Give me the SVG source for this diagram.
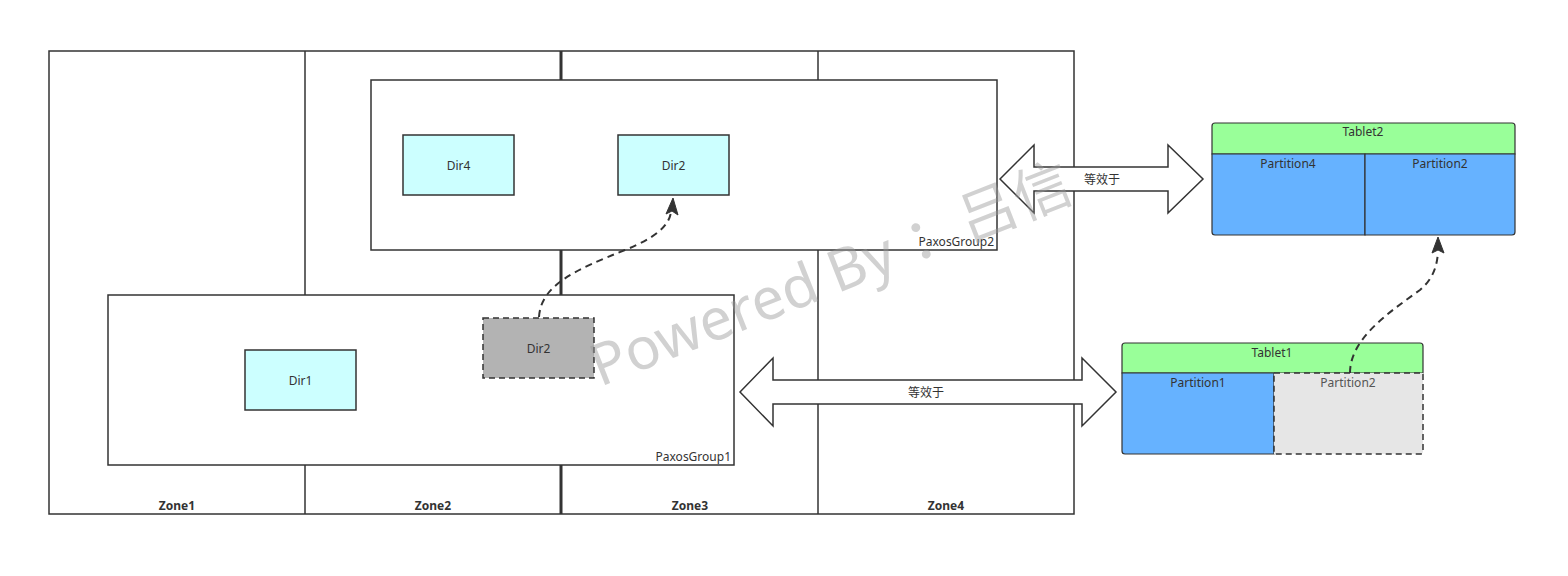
<svg xmlns="http://www.w3.org/2000/svg" width="1568" height="576" viewBox="0 0 1568 576">
<style>
text{font-family:"Noto Sans","Noto Sans CJK SC",sans-serif;font-size:12px;fill:#333}
.zone{fill:none;stroke:#333;stroke-width:1.5}
.zl{font-weight:bold;text-anchor:middle}
.grp{fill:#fff;stroke:#333;stroke-width:1.5}
.gl{text-anchor:end}
.dir{fill:#ccffff;stroke:#333;stroke-width:1.5}
.c{text-anchor:middle;dominant-baseline:central}
.hdr{fill:#99ff99;stroke:#333;stroke-width:1.2}
.part{fill:#66b2ff;stroke:#333;stroke-width:1.2}
.ghost{stroke:#333;stroke-width:1.5;stroke-dasharray:6 4}
.big{fill:#fff;stroke:#333;stroke-width:1.5}
.dash{fill:none;stroke:#333;stroke-width:2;stroke-dasharray:7 5}
.head{fill:#333;stroke:#333;stroke-width:1}
</style>
<rect width="1568" height="576" fill="#fff"/>
<g id="zones">
<rect class="zone" x="49" y="51" width="1025" height="463"/>
<line class="zone" x1="305" y1="51" x2="305" y2="514"/>
<line class="zone" x1="561" y1="51" x2="561" y2="514" style="stroke-width:3"/>
<line class="zone" x1="818" y1="51" x2="818" y2="514"/>
<text class="zl" x="177" y="510">Zone1</text>
<text class="zl" x="433" y="510">Zone2</text>
<text class="zl" x="690" y="510">Zone3</text>
<text class="zl" x="946" y="510">Zone4</text>
</g>
<g id="paxosgroup2">
<rect class="grp" x="371" y="80" width="626" height="170"/>
<text class="gl" x="994" y="246">PaxosGroup2</text>
</g>
<g id="paxosgroup1">
<rect class="grp" x="108" y="295" width="626" height="170"/>
<text class="gl" x="731" y="461">PaxosGroup1</text>
</g>
<g id="dir4"><rect class="dir" x="403" y="135" width="111" height="60"/><text class="c" x="458.5" y="165">Dir4</text></g>
<g id="dir2"><rect class="dir" x="618" y="135" width="111" height="60"/><text class="c" x="673.5" y="165">Dir2</text></g>
<g id="dir1"><rect class="dir" x="245" y="350" width="111" height="60"/><text class="c" x="300.5" y="380">Dir1</text></g>
<g id="dir2-old"><rect class="ghost" fill="#b3b3b3" x="483" y="318" width="111" height="60"/><text class="c" x="538.5" y="348">Dir2</text></g>
<g id="tablet2">
<path class="hdr" d="M1212,154 V126 Q1212,123 1215,123 H1512 Q1515,123 1515,126 V154 Z"/>
<text class="c" x="1363" y="131">Tablet2</text>
<path class="part" d="M1212,154 H1365 V235 H1215 Q1212,235 1212,232 Z"/>
<path class="part" d="M1365,154 H1515 V232 Q1515,235 1512,235 H1365 Z"/>
<text class="c" x="1288" y="163">Partition4</text>
<text class="c" x="1440" y="163">Partition2</text>
</g>
<g id="tablet1">
<path class="hdr" d="M1122,373 V346 Q1122,343 1125,343 H1420 Q1423,343 1423,346 V373 Z"/>
<text class="c" x="1272" y="352">Tablet1</text>
<path class="part" d="M1122,373 H1274 V454 H1125 Q1122,454 1122,451 Z"/>
<path class="ghost" fill="#e6e6e6" d="M1274,373 H1423 V451 Q1423,454 1420,454 H1274 Z"/>
<text class="c" x="1198" y="382">Partition1</text>
<text class="c" x="1348" y="382" style="fill:#555">Partition2</text>
</g>
<g id="connectors">
<polygon class="big" points="1000,179 1034,145 1034,167 1168,167 1168,145 1203,179 1168,213 1168,191 1034,191 1034,213"/>
<text class="c" x="1102" y="179">等效于</text>
<polygon class="big" points="740,392 773,358 773,380 1082,380 1082,358 1116,392 1082,426 1082,404 773,404 773,426"/>
<text class="c" x="926" y="392">等效于</text>
<path class="dash" d="M539,317 C541,285 575,270 625,250 C655,238 669,226 671,212"/>
<polygon class="head" points="673,198 666,214 672,211 678,215"/>
<path class="dash" d="M1350,373 C1350,340 1385,315 1420,290 C1434,278 1437,265 1438,252"/>
<polygon class="head" points="1438,237 1432,253 1438,250 1444,253"/>
</g>
<text x="600" y="387" transform="rotate(-21.5 600 387)" textLength="512" lengthAdjust="spacing" style="font-size:58px;fill:#999;fill-opacity:0.45">Powered By ：吕信</text>
</svg>
